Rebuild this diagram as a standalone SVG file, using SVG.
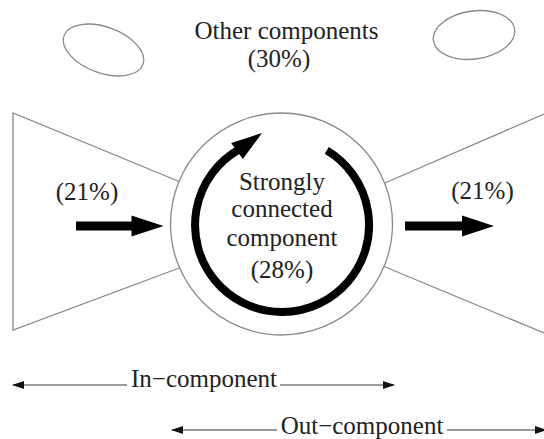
<svg xmlns="http://www.w3.org/2000/svg" width="544" height="439" viewBox="0 0 544 439">
<defs>
<style>
.t{font-size:25px;fill:#222;text-anchor:middle}
.thin{fill:none;stroke:#8a8a8a;stroke-width:1.3}
.dim{fill:none;stroke:#7a7a7a;stroke-width:1.3}
.big{fill:#000;stroke:none}
</style>
<marker id="ah" viewBox="0 0 12 8" refX="11" refY="4" markerWidth="12" markerHeight="8" markerUnits="userSpaceOnUse" orient="auto-start-reverse">
<path d="M0,0 L12,4 L0,8 Z" fill="#111"/>
</marker>
</defs>
<rect width="544" height="439" fill="#fff"/>

<g id="other-components">
<ellipse class="thin" cx="103.5" cy="50" rx="42" ry="23" transform="rotate(20 103.5 50)"/>
<ellipse class="thin" cx="474" cy="35" rx="41" ry="24" transform="rotate(-8 474 35)"/>
<text class="t" style="font-family:'Liberation Serif',serif" x="286.5" y="39">Other components</text>
<text class="t" style="font-family:'Liberation Serif',serif" x="279" y="67">(30%)</text>
</g>

<g id="in-component">
<polyline class="thin" points="190,186 13,113 13,330 190,264"/>
<text class="t" style="font-family:'Liberation Serif',serif" x="87" y="200">(21%)</text>
</g>

<g id="out-component">
<polyline class="thin" points="378,186 544,114"/>
<polyline class="thin" points="378,264 544,333"/>
<text class="t" style="font-family:'Liberation Serif',serif" x="482.5" y="199">(21%)</text>
</g>

<g id="scc">
<circle cx="281.5" cy="224" r="111" fill="#fff" stroke="#8a8a8a" stroke-width="1.3"/>
<path d="M326.8,150.4 A87,87 0 1 1 238.5,149.7" fill="none" stroke="#000" stroke-width="8"/>
<polygon class="big" points="262,133 242.8,159.1 231.2,142.9"/>
<text class="t" style="font-family:'Liberation Serif',serif" x="282" y="190">Strongly</text>
<text class="t" style="font-family:'Liberation Serif',serif" x="282" y="217">connected</text>
<text class="t" style="font-family:'Liberation Serif',serif" x="282" y="246">component</text>
<text class="t" style="font-family:'Liberation Serif',serif" x="282" y="278">(28%)</text>
</g>

<g id="connectors">
<path class="big" d="M76,221.5 H131.5 V215.5 L163.5,226 L131.5,236.5 V230.5 H76 Z"/>
<path class="big" d="M405,221.5 H462 V215.5 L494,226 L462,236.5 V230.5 H405 Z"/>
<line class="dim" x1="13" y1="385" x2="127" y2="385" marker-start="url(#ah)"/>
<line class="dim" x1="280" y1="385" x2="394" y2="385" marker-end="url(#ah)"/>
<line class="dim" x1="172" y1="430" x2="277" y2="430" marker-start="url(#ah)"/>
<line class="dim" x1="447" y1="430" x2="546" y2="430" marker-end="url(#ah)"/>
</g>

<g id="labels">
<text class="t" style="font-family:'Liberation Serif',serif" x="204" y="387">In−component</text>
<text class="t" style="font-family:'Liberation Serif',serif" x="362" y="433.5">Out−component</text>
</g>
</svg>
